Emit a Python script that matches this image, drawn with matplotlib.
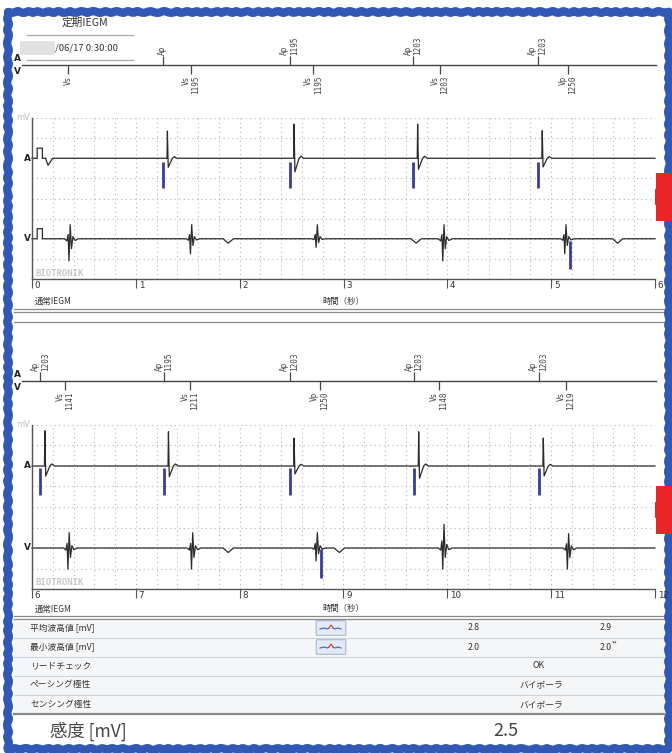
import numpy as np
import matplotlib.pyplot as plt
from matplotlib.patches import Rectangle, FancyBboxPatch

plt.rcParams['font.family'] = ['Noto Sans CJK JP', 'DejaVu Sans']

W, H = 672, 753

# marker strip + egm, panel 1 (0-6 s)
p1_ap_t = [1.26, 2.48, 3.67, 4.87]
p1_ap_lbl = ['Ap', 'Ap\n1195', 'Ap\n1203', 'Ap\n1203']
p1_vm_t = [0.35, 1.53, 2.71, 3.93, 5.16]
p1_vm_lbl = ['Vs', 'Vs\n1195', 'Vs\n1195', 'Vs\n1203', 'Vp\n1250']
p1_a_peak = [1.35, 1.70, 1.70, 1.37]
p1_a_trough = [-0.45, -0.68, -0.55, -0.43]
p1_qrs_t = [0.36, 1.53, 2.74, 3.96, 5.135]
p1_v_peak = [0.70, 0.70, 0.70, 0.70, 0.70]
p1_v_trough = [-1.10, -0.75, -0.43, -1.10, -0.75]
p1_v_dip = [1.89, 3.70, 5.64]
p1_vp_bar = [5.18]

# panel 2 (6-12 s)
p2_ap_t = [6.08, 7.27, 8.48, 9.68, 10.88]
p2_ap_lbl = ['Ap\n1203', 'Ap\n1195', 'Ap\n1203', 'Ap\n1203', 'Ap\n1203']
p2_vm_t = [6.32, 7.52, 8.77, 9.92, 11.14]
p2_vm_lbl = ['Vs\n1141', 'Vs\n1211', 'Vp\n1250', 'Vs\n1148', 'Vs\n1219']
p2_a_peak = [1.72, 1.67, 1.36, 1.67, 1.36]
p2_a_trough = [-0.49, -0.52, -0.39, -0.60, -0.49]
p2_qrs_t = [6.35, 7.54, 8.74, 9.96, 11.16]
p2_v_peak = [0.75, 0.75, 0.75, 1.15, 0.70]
p2_v_trough = [-1.03, -1.03, -0.63, -1.03, -1.03]
p2_v_dip = [7.89, 8.96]
p2_vp_bar = [8.78]

# complex shapes (s from event, share of peak / trough)
a_dt = [0.0, 0.040, 0.044, 0.052, 0.092, 0.112, 0.135]
a_kp = [0, 0, 1, 0, 0, 0.06, 0]
a_kt = [0, 0, 0, 1, 0, 0, 0]
v_dt = [-0.045, -0.024, -0.012, -0.004, 0.008, 0.020, 0.034, 0.055, 0.085]
v_kp = [0, 0, 0.3, 0, 1, 0, 0.15, 0, 0]
v_kt = [0, 0.1, 0, 1, 0, 0.45, 0, 0.08, 0]
dip_dt = [-0.05, 0.0, 0.05]
dip_y = [0, -0.22, 0]
cal_a_t = [0.05, 0.05, 0.10, 0.10, 0.13, 0.155, 0.20]
cal_a_y = [0, 0.5, 0.5, 0, 0, -0.35, 0]
cal_v_t = [0.05, 0.05, 0.10, 0.10]
cal_v_y = [0, 0.5, 0.5, 0]

# table
row_lbls = ['平均波高値 [mV]', '最小波高値 [mV]', 'リードチェック', 'ペーシング極性', 'センシング極性']
avg_amp = ['2.8', '2.9']
min_amp = ['2.0', '2.0']
lead_check = 'OK'
pace_pol = 'バイポーラ'
sense_pol = 'バイポーラ'
sens_lbl = '感度 [mV]'
sens_val = '2.5'
icon_x = [0, 4, 7, 9, 11, 13, 15, 18, 21]
icon_y = [1, 0, 1, 0, -3, 0, 1, 0, 1]

TXT = '#333333'
GRID = '#b3b3b3'
PACE = '#3b3c98'

fig = plt.figure(figsize=(W / 100, H / 100), dpi=100)
bg = fig.add_axes([0, 0, 1, 1])
bg.set_xlim(0, W)
bg.set_ylim(H, 0)
bg.axis('off')


def px_axes(x0, y0, x1, y1):
    return fig.add_axes([x0 / W, 1 - y1 / H, (x1 - x0) / W, (y1 - y0) / H])


def build(t0, t1, chunks):
    pts = [(t0, 0.0)]
    for ts, ys in chunks:
        pts += list(zip(ts, ys))
    pts.append((t1, 0.0))
    pts.sort(key=lambda p: p[0])
    return np.array(pts).T


def a_chunks(ap_t, peaks, troughs):
    out = []
    for t, pk, tr in zip(ap_t, peaks, troughs):
        out.append(([t + d for d in a_dt], [kp * pk + kt * tr for kp, kt in zip(a_kp, a_kt)]))
    return out


def v_chunks(qrs_t, peaks, troughs, dips):
    out = []
    for t, pk, tr in zip(qrs_t, peaks, troughs):
        out.append(([t + d for d in v_dt], [kp * pk + kt * tr for kp, kt in zip(v_kp, v_kt)]))
    for t in dips:
        out.append(([t + d for d in dip_dt], dip_y))
    return out


def strip(y_mid, t0, t1, ap_t, ap_lbl, vm_t, vm_lbl):
    ax = px_axes(32, y_mid - 35, 655, y_mid + 35)
    ax.set_xlim(t0, t1)
    ax.set_ylim(35, -35)
    ax.axis('off')
    ax.plot([-10 / 623, 1.002], [0, 0], color='#444444', lw=1,
            transform=ax.get_yaxis_transform(), clip_on=False)
    ax.vlines(ap_t, -9, 0, color='#444444', lw=0.9)
    ax.vlines(vm_t, 0, 9, color='#444444', lw=0.9)
    for t, s in zip(ap_t, ap_lbl):
        ax.annotate(s, (t, -9), xytext=(0, 1), textcoords='offset points',
                    rotation=90, ha='center', va='bottom', multialignment='left',
                    family='DejaVu Sans Mono', fontsize=5.5, color='#444444',
                    linespacing=1.1)
    for t, s in zip(vm_t, vm_lbl):
        ax.annotate(s, (t, 9), xytext=(0, -1), textcoords='offset points',
                    rotation=90, ha='center', va='top', multialignment='right',
                    family='DejaVu Sans Mono', fontsize=5.5, color='#444444',
                    linespacing=1.1)
    for s, dy in (('A', 4.5), ('V', -5)):
        ax.annotate(s, (0, 0), xycoords=('axes fraction', 'data'),
                    xytext=(-10.5, dy), textcoords='offset points',
                    ha='center', va='center', fontsize=6.5, fontweight='bold',
                    family='DejaVu Sans', color='#222222')


def egm(y_top, y_bot, t0, t1, a_xy, v_xy, ap_t, vp_bar, bar_a, bar_v):
    ax = px_axes(32, y_top, 655, y_bot)
    ax.set_xlim(t0, t1)
    ax.set_ylim(-6, 2)
    ax.set_xticks(range(t0, t1 + 1))
    ax.set_xticks(np.arange(t0, t1 + 0.01, 0.2), minor=True)
    ax.set_yticks(range(-6, 3))
    ax.tick_params(axis='x', which='major', length=6.5, width=0.8, color='#555555',
                   labelbottom=False)
    ax.tick_params(axis='x', which='minor', length=0)
    ax.tick_params(axis='y', length=0, labelleft=False)
    ax.grid(which='both', color=GRID, lw=0.8, linestyle=(0, (1, 3)))
    ax.set_axisbelow(True)
    for side in ('top', 'right'):
        ax.spines[side].set_visible(False)
    for side in ('left', 'bottom'):
        ax.spines[side].set_color('#555555')
        ax.spines[side].set_linewidth(1)
    ax.plot(a_xy[0], a_xy[1], color='#2b2b2b', lw=0.9, clip_on=False)
    ax.plot(v_xy[0], v_xy[1] - 4, color='#2b2b2b', lw=0.9, clip_on=False)
    ax.vlines(ap_t, bar_a[0], bar_a[1], color=PACE, lw=2)
    ax.vlines(vp_bar, bar_v[0], bar_v[1], color=PACE, lw=2)
    for t in range(t0, t1 + 1):
        ax.annotate(str(t), (t, 0), xycoords=('data', 'axes fraction'),
                    xytext=(2, -1.2), textcoords='offset points', ha='left', va='top',
                    fontsize=6.3, family='DejaVu Sans', color=TXT)
    for s, y in (('A', 0), ('V', -4)):
        ax.annotate(s, (0, y), xycoords=('axes fraction', 'data'),
                    xytext=(-3.6, 0), textcoords='offset points',
                    ha='center', va='center', fontsize=6.5, fontweight='bold',
                    family='DejaVu Sans', color='#222222')
    ax.annotate('mV', (0, 1), xycoords='axes fraction', xytext=(-1, 0),
                textcoords='offset points', ha='right', va='center',
                fontsize=6, family='DejaVu Sans', color='#c0c0c0')
    ax.text(0.005, 0.037, 'BIOTRONIK', transform=ax.transAxes, ha='left', va='center',
            fontsize=6.5, family='DejaVu Sans Mono', fontweight='bold', color='#c8c8c8')
    return ax


# header box
bg.text(85, 23, '定期IEGM', ha='center', va='center', fontsize=7.7, color=TXT)
bg.plot([27, 133], [35, 35], color='#a8a8a8', lw=0.9)
bg.add_patch(FancyBboxPatch((22, 43), 31, 10, boxstyle='round,pad=2',
                            fc='#dedede', ec='none', alpha=0.9))
bg.text(55, 48, '/06/17 0:30:00', ha='left', va='center', fontsize=6.8, color=TXT)
bg.plot([27, 133], [60, 60], color='#a8a8a8', lw=0.9)

# panel 1
strip(65, 0, 6, p1_ap_t, p1_ap_lbl, p1_vm_t, p1_vm_lbl)
a1 = build(0, 6, [(cal_a_t, cal_a_y)] + a_chunks(p1_ap_t, p1_a_peak, p1_a_trough))
v1 = build(0, 6, [(cal_v_t, cal_v_y)] + v_chunks(p1_qrs_t, p1_v_peak, p1_v_trough, p1_v_dip))
egm(118, 279, 0, 6, a1, v1, p1_ap_t, p1_vp_bar, (-1.5, -0.2), (-5.5, -4.1))
bg.text(35, 301, '通常IEGM', ha='left', va='center', fontsize=6, color=TXT)
bg.text(343, 301, '時間（秒）', ha='center', va='center', fontsize=6, color=TXT)
for y in (309, 311.5, 322):
    bg.plot([14, 664], [y, y], color='#8a8a8a', lw=0.9)

# panel 2
strip(381, 6, 12, p2_ap_t, p2_ap_lbl, p2_vm_t, p2_vm_lbl)
a2 = build(6, 12, a_chunks(p2_ap_t, p2_a_peak, p2_a_trough))
v2 = build(6, 12, v_chunks(p2_qrs_t, p2_v_peak, p2_v_trough, p2_v_dip))
egm(425, 589, 6, 12, a2, v2, p2_ap_t, p2_vp_bar, (-1.4, -0.1), (-5.46, -4.05))
bg.text(35, 609, '通常IEGM', ha='left', va='center', fontsize=6, color=TXT)
bg.text(343, 609, '時間（秒）', ha='center', va='center', fontsize=6, color=TXT)
for y in (616, 618.5):
    bg.plot([14, 664], [y, y], color='#8a8a8a', lw=0.9)

# table
row_edges = [618.5, 637.5, 656.5, 675.5, 694.5, 714]
bg.add_patch(Rectangle((14, row_edges[0]), 650, row_edges[-1] - row_edges[0],
                       fc='#f5f6f8', ec='none', zorder=0))
for y in row_edges[1:-1]:
    bg.plot([14, 664], [y, y], color='#d0d3d7', lw=0.8)
bg.plot([14, 664], [714, 714], color='#8a8a8a', lw=1.6)
mids = [(a + b) / 2 for a, b in zip(row_edges[:-1], row_edges[1:])]
for s, y in zip(row_lbls, mids):
    bg.text(30, y, s, ha='left', va='center', fontsize=6.3, color=TXT)
for vals, y in zip((avg_amp, min_amp), mids[:2]):
    bg.add_patch(FancyBboxPatch((317, y - 6.5), 28, 13, boxstyle='round,pad=0.8',
                                fc='#e3eaf5', ec='#a9b8cf', lw=0.8))
    xs = [320 + v for v in icon_x]
    ys = [y + v for v in icon_y]
    bg.plot(xs[:4], ys[:4], color='#3a62b8', lw=0.8)
    bg.plot(xs[3:6], ys[3:6], color='#d23a3a', lw=0.8)
    bg.plot(xs[5:], ys[5:], color='#3a62b8', lw=0.8)
    bg.text(474, y, vals[0], ha='center', va='center', fontsize=6.3, color=TXT)
    bg.text(606, y, vals[1], ha='center', va='center', fontsize=6.3, color=TXT)
bg.text(612, mids[1] - 2, '**', ha='left', va='center', fontsize=4.5, color=TXT)
bg.text(539, mids[2], lead_check, ha='center', va='center', fontsize=6.3, color=TXT)
bg.text(541, mids[3], pace_pol, ha='center', va='center', fontsize=6.3, color=TXT)
bg.text(541, mids[4], sense_pol, ha='center', va='center', fontsize=6.3, color=TXT)
bg.text(50, 731, sens_lbl, ha='left', va='center', fontsize=12.5, color='#444444')
bg.text(506, 731, sens_val, ha='center', va='center', fontsize=13, color='#444444')

# hand-drawn frame and marks
frame = Rectangle((8, 12), 661, 737, fc='none', ec='#3158b4', lw=6, zorder=10,
                  joinstyle='round', capstyle='round')
frame.set_sketch_params(0.8, 12, 2)
bg.add_patch(frame)
bg.scatter([664, 664], [197, 510], marker='P', s=1150, color='#e8262a',
           zorder=11, linewidths=0)

fig.savefig('out.png', dpi=100)
